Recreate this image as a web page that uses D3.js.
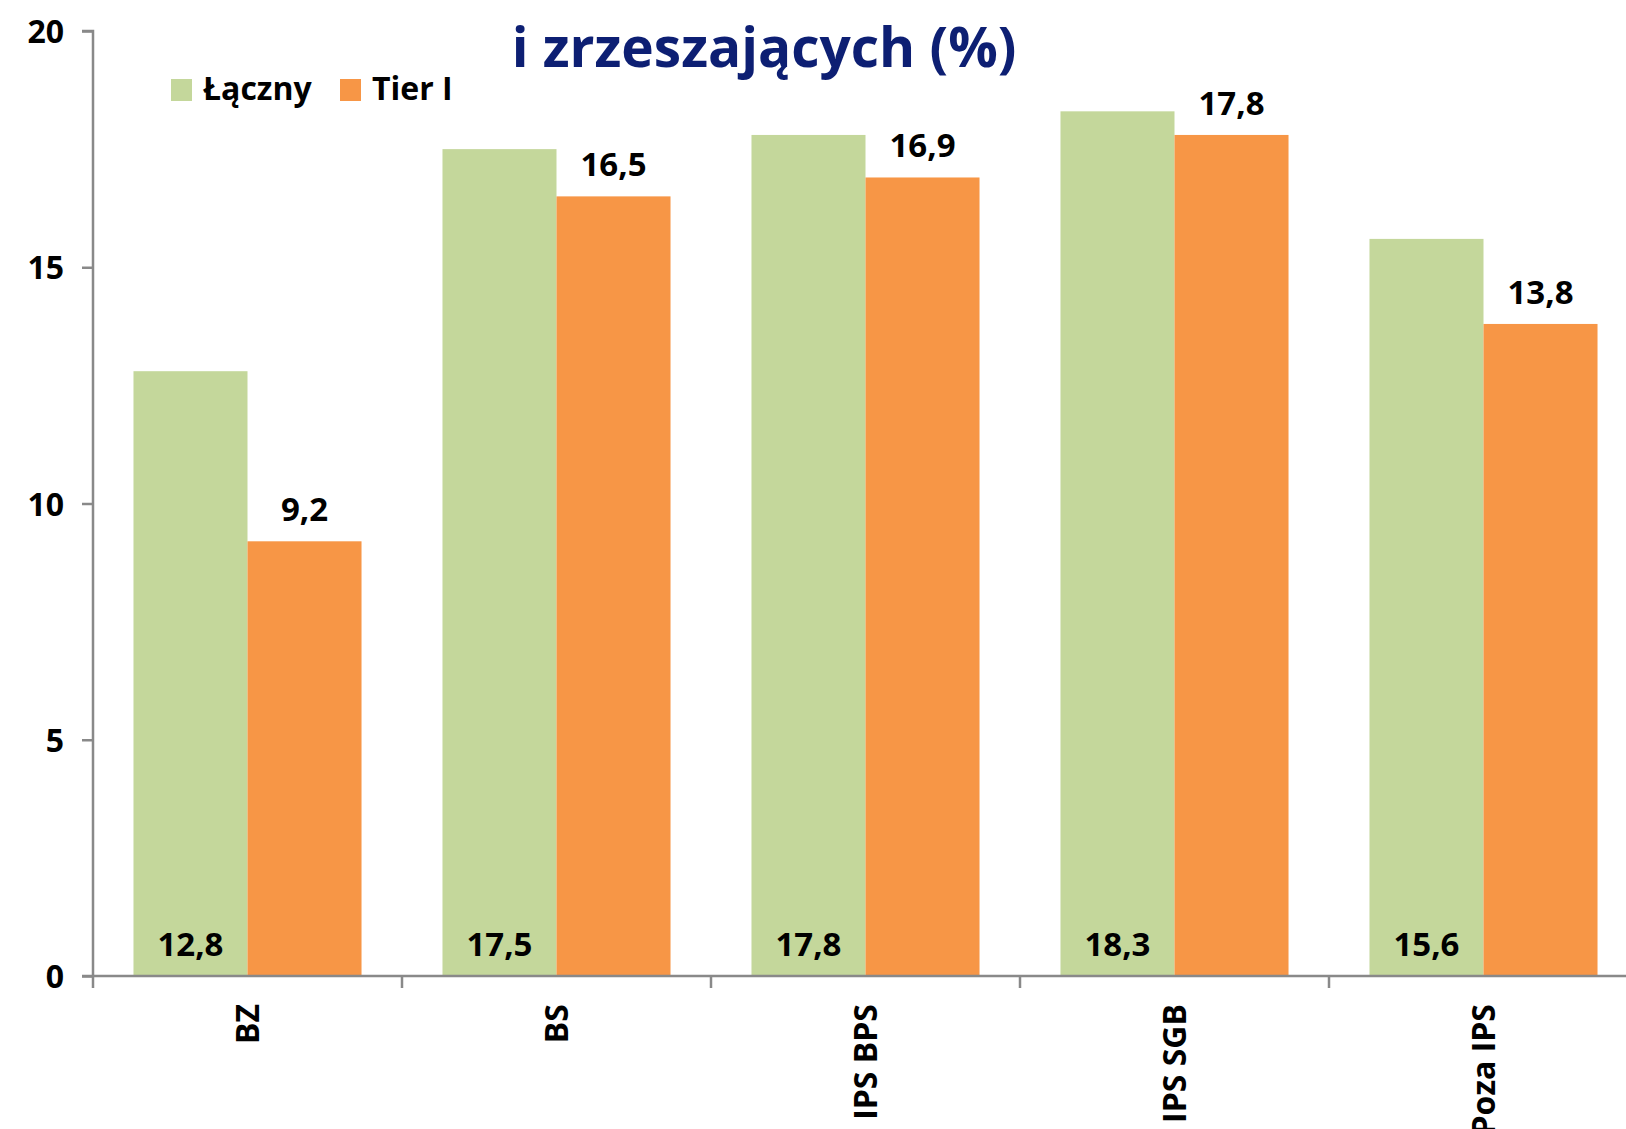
<!DOCTYPE html>
<html>
<head>
<meta charset="utf-8">
<script src="https://cdn.jsdelivr.net/npm/d3@7"></script>
<style>
  body { margin: 0; background: #fff; }
  svg { display: block; font-family: "Open Sans", sans-serif; font-weight: bold; }
</style>
</head>
<body>
<svg width="1626" height="1129"></svg>
<script>
// dane
const categories = ['BZ', 'BS', 'IPS BPS', 'IPS SGB', 'Poza IPS'];
const seriesNames = ['Łączny', 'Tier I'];
const laczny = [12.8, 17.5, 17.8, 18.3, 15.6];
const tier1 = [9.2, 16.5, 16.9, 17.8, 13.8];
const yTicks = [0, 5, 10, 15, 20];
const colors = ['#c4d79b', '#f79646'];

const svg = d3.select('svg');
const fmt = v => d3.format('.1f')(v).replace('.', ',');

// skale
const x0 = d3.scaleBand().domain(categories).range([93, 1638]).paddingInner(0.262).paddingOuter(0.131);
const x1 = d3.scaleBand().domain(seriesNames).range([0, x0.bandwidth()]);
const y = d3.scaleLinear().domain([0, 20]).range([976, 31]);

// tytuł (druga linia)
svg.append('text')
  .attr('x', 764).attr('y', 67)
  .attr('text-anchor', 'middle')
  .attr('fill', '#0d1f73')
  .attr('font-size', 55)
  .text('i zrzeszających (%)');

// słupki
const rows = categories.map((c, i) => ({ cat: c, vals: [laczny[i], tier1[i]] }));
const g = svg.append('g');
const grp = g.selectAll('g').data(rows).enter().append('g')
  .attr('transform', d => `translate(${x0(d.cat)},0)`);

grp.selectAll('rect')
  .data(d => d.vals.map((v, k) => ({ k, v })))
  .enter().append('rect')
    .attr('x', d => x1(seriesNames[d.k]))
    .attr('y', d => y(d.v))
    .attr('width', x1.bandwidth())
    .attr('height', d => y(0) - y(d.v))
    .attr('fill', d => colors[d.k]);

// etykiety
grp.selectAll('text')
  .data(d => d.vals.map((v, k) => ({ k, v })))
  .enter().append('text')
    .attr('x', d => x1(seriesNames[d.k]) + x1.bandwidth() / 2)
    .attr('y', d => d.k === 0 ? y(0) - 20 : y(d.v) - 20)
    .attr('text-anchor', 'middle')
    .attr('font-size', 33)
    .attr('fill', '#000')
    .text(d => fmt(d.v));

// oś Y
const yAxis = svg.append('g')
  .attr('transform', 'translate(93,0)')
  .call(d3.axisLeft(y).tickValues(yTicks).tickSize(11).tickPadding(18));
yAxis.selectAll('text').attr('font-size', 32).attr('font-family', '"Open Sans", sans-serif')
  .attr('font-weight', 'bold').attr('fill', '#000').attr('dy', '0.36em');

// oś X
const xAxis = svg.append('g').attr('transform', `translate(0,${y(0)})`);
xAxis.append('line').attr('x1', 82).attr('x2', 1626).attr('y1', 0).attr('y2', 0);
xAxis.selectAll('.tk').data(categories).enter().append('line')
  .attr('class', 'tk')
  .attr('x1', d => x0(d) - x0.step() * 0.131).attr('x2', d => x0(d) - x0.step() * 0.131)
  .attr('y1', 0).attr('y2', 12);
xAxis.selectAll('.lbl').data(categories).enter().append('text')
  .attr('class', 'lbl')
  .attr('transform', d => `translate(${x0(d) + x0.bandwidth() / 2 + 11},28) rotate(-90)`)
  .attr('text-anchor', 'end')
  .attr('font-size', 32)
  .attr('fill', '#000')
  .text(d => d);

svg.selectAll('.domain, line').attr('stroke', '#898989').attr('stroke-width', 2.5);
yAxis.select('.domain').attr('d', 'M-11,31H0V976');

// legenda
const leg = svg.append('g');
const legX = [171, 340];
seriesNames.forEach((s, i) => {
  leg.append('rect').attr('x', legX[i]).attr('y', 79).attr('width', 21).attr('height', 22).attr('fill', colors[i]);
  leg.append('text').attr('x', legX[i] + 32).attr('y', 100).attr('font-size', 32).attr('fill', '#000').text(s);
});
</script>
</body>
</html>
